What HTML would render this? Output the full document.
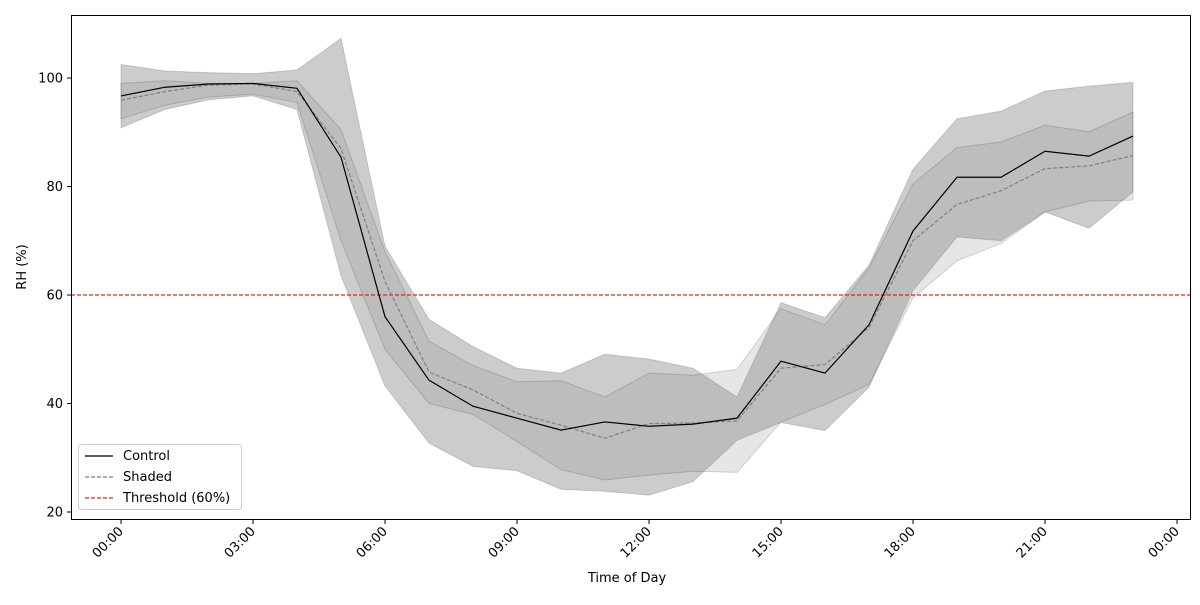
<!DOCTYPE html>
<html><head><meta charset="utf-8"><style>
body{margin:0;background:#fff;font-family:"Liberation Sans",sans-serif}
svg text{font-family:"DejaVu Sans","Liberation Sans",sans-serif;font-size:13px;fill:#000}
</style></head><body>
<svg id="chart" width="1200" height="600">
<rect width="1200" height="600" fill="#fff"/>
<g id="bands"></g><g id="lines"></g><g id="axes"></g>
</svg>
<script>
const hours=[0,1,2,3,4,5,6,7,8,9,10,11,12,13,14,15,16,17,18,19,20,21,22,23];
const controlMean=[96.7,98.3,98.9,99,98.1,85.4,56,44.3,39.5,37.3,35.1,36.6,35.8,36.2,37.3,47.8,45.6,54.5,71.8,81.7,81.7,86.5,85.6,89.3];
const shadedMean=[95.9,97.5,98.7,98.9,97.5,87,62.5,45.8,42.5,38.2,36,33.6,36.3,36.4,36.8,46.5,47.2,54,70,76.7,79.2,83.3,83.8,85.7];
const controlUpper=[102.5,101.3,101,100.8,101.5,107.3,69,55.5,50.5,46.5,45.6,49.1,48.2,46.5,41.2,58.6,55.8,65.5,83.2,92.5,93.9,97.6,98.5,99.2];
const controlLower=[90.8,94.2,96,96.7,94.2,63.5,43.2,32.7,28.4,27.6,24.2,23.8,23.1,25.6,33.2,36.5,35,43,60.8,70.7,70,75.3,72.3,79];
const shadedUpper=[99,99.5,99,99,99.5,90.5,68,51.5,47,44,44.2,41.2,45.6,45.2,46.3,57.5,54.5,65,80.5,87.2,88.2,91.3,90.1,93.7];
const shadedLower=[92.5,95,96.5,97,95.5,70,50,40,38,33,27.8,25.9,26.8,27.5,27.3,36.6,39.8,43.5,59.5,66.3,69.5,75.3,77.3,77.5];
const yTicks=[20,40,60,80,100];
const xTickHours=[0,3,6,9,12,15,18,21,24];
const xTickLabels=["00:00","03:00","06:00","09:00","12:00","15:00","18:00","21:00","00:00"];
const threshold=60;

const X=h=>121+h*44;
const Y=v=>78+(100-v)*5.425;
const NS="http://www.w3.org/2000/svg";
function mk(tag,parent,attrs){const e=document.createElementNS(NS,tag);for(const k in attrs)e.setAttribute(k,attrs[k]);parent.appendChild(e);return e;}
const bands=document.getElementById('bands'),lines=document.getElementById('lines'),axes=document.getElementById('axes');
function band(up,lo,fill){
  let pts=hours.map((h,i)=>X(h)+','+Y(up[i]));
  pts=pts.concat(hours.slice().reverse().map((h,j)=>{const i=hours.length-1-j;return X(h)+','+Y(lo[i]);}));
  return mk('polygon',bands,{points:pts.join(' '),fill:fill,stroke:'rgba(0,0,0,0.15)','stroke-width':1});
}
const b1=band(controlUpper,controlLower,'rgba(0,0,0,0.2)');


const b2=band(shadedUpper,shadedLower,'rgba(128,128,128,0.2)');


const th=mk('line',lines,{x1:71,x2:1190,y1:Y(threshold),y2:Y(threshold),stroke:'#d62728','stroke-width':1.2,'stroke-dasharray':'4,2'});


const sl=mk('polyline',lines,{points:hours.map((h,i)=>X(h)+','+Y(shadedMean[i])).join(' '),fill:'none',stroke:'#808080','stroke-width':1.2,'stroke-dasharray':'4,2'});


const cl=mk('polyline',lines,{points:hours.map((h,i)=>X(h)+','+Y(controlMean[i])).join(' '),fill:'none',stroke:'#000','stroke-width':1.2});


// axes frame
const fr=mk('rect',axes,{x:71.5,y:15.5,width:1119,height:504,fill:'none',stroke:'#000','stroke-width':1});


yTicks.forEach(v=>{
  const y=Y(v);
  mk('line',axes,{x1:67,x2:71,y1:y,y2:y,stroke:'#000'});
  const t=mk('text',axes,{x:63,y:y+4.5,'text-anchor':'end'});t.textContent=v;
  
  
});
xTickHours.forEach((h,i)=>{
  const x=X(h);
  mk('line',axes,{x1:x,x2:x,y1:520,y2:524,stroke:'#000'});
  const t=mk('text',axes,{x:x+3,y:532,'text-anchor':'end',transform:`rotate(-45 ${x+3} 532)`});t.textContent=xTickLabels[i];
  
  
});
</script>
<svg style="position:absolute;left:0;top:0" width="1200" height="600">
<text x="627" y="582" text-anchor="middle" style="font-family:'DejaVu Sans','Liberation Sans',sans-serif;font-size:13px">Time of Day</text>
<text x="26" y="267" text-anchor="middle" transform="rotate(-90 26 267)" style="font-family:'DejaVu Sans','Liberation Sans',sans-serif;font-size:13px">RH (%)</text>
<g>
<rect x="78.5" y="444.5" width="163" height="65" rx="3" fill="rgba(255,255,255,0.8)" stroke="#ccc"/>
<line x1="85" x2="113" y1="456" y2="456" stroke="#000" stroke-width="1.2"/>
<text x="123" y="460" style="font-family:'DejaVu Sans','Liberation Sans',sans-serif;font-size:13px">Control</text>
<line x1="85" x2="113" y1="477" y2="477" stroke="#808080" stroke-width="1.2" stroke-dasharray="4,2"/>
<text x="123" y="481" style="font-family:'DejaVu Sans','Liberation Sans',sans-serif;font-size:13px">Shaded</text>
<line x1="85" x2="113" y1="498" y2="498" stroke="#d62728" stroke-width="1.2" stroke-dasharray="4,2"/>
<text x="123" y="502" style="font-family:'DejaVu Sans','Liberation Sans',sans-serif;font-size:13px">Threshold (60%)</text>
</g>
</svg>
</body></html>
